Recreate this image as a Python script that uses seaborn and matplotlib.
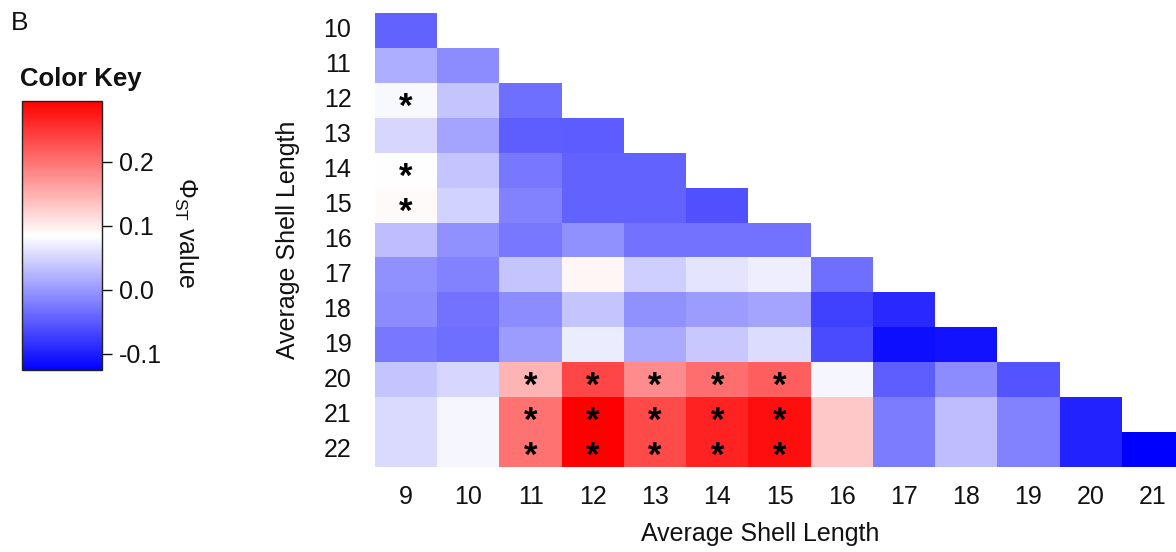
import numpy as np
import pandas as pd
import matplotlib
matplotlib.use("Agg")
import matplotlib.pyplot as plt
from matplotlib.colors import LinearSegmentedColormap
import seaborn as sns

# ---- data ----
row_labels = [10, 11, 12, 13, 14, 15, 16, 17, 18, 19, 20, 21, 22]
col_labels = [9, 10, 11, 12, 13, 14, 15, 16, 17, 18, 19, 20, 21]

row10 = [-0.043]
row11 = [0.019, -0.010]
row12 = [0.079, 0.036, -0.034]
row13 = [0.052, 0.011, -0.047, -0.049]
row14 = [0.085, 0.036, -0.026, -0.044, -0.044]
row15 = [0.089, 0.048, -0.018, -0.044, -0.044, -0.059]
row16 = [0.031, -0.006, -0.026, -0.006, -0.030, -0.030, -0.030]
row17 = [-0.006, -0.018, 0.036, 0.093, 0.044, 0.063, 0.071, -0.034]
row18 = [-0.010, -0.030, -0.010, 0.036, -0.006, 0.003, 0.011, -0.071, -0.092]
row19 = [-0.026, -0.034, 0.003, 0.069, 0.015, 0.040, 0.056, -0.063, -0.113, -0.109]
row20 = [0.036, 0.052, 0.147, 0.237, 0.180, 0.204, 0.217, 0.077, -0.047, -0.010, -0.055]
row21 = [0.055, 0.077, 0.200, 0.295, 0.233, 0.266, 0.283, 0.130, -0.022, 0.031, -0.018, -0.096]
row22 = [0.055, 0.077, 0.200, 0.295, 0.233, 0.266, 0.283, 0.130, -0.022, 0.031, -0.018, -0.096, -0.125]
rows = [row10, row11, row12, row13, row14, row15, row16, row17, row18, row19, row20, row21, row22]

# significant pairs (row label, column label)
significant = [(12, 9), (14, 9), (15, 9),
               (20, 11), (20, 12), (20, 13), (20, 14), (20, 15),
               (21, 11), (21, 12), (21, 13), (21, 14), (21, 15),
               (22, 11), (22, 12), (22, 13), (22, 14), (22, 15)]

vmin, vmax = -0.125, 0.295
cbar_ticks = [-0.1, 0.0, 0.1, 0.2]
cbar_ticklabels = ["-0.1", "0.0", "0.1", "0.2"]

# ---- build matrix ----
mat = np.full((len(row_labels), len(col_labels)), np.nan)
for i, r in enumerate(rows):
    mat[i, :len(r)] = r
df = pd.DataFrame(mat, index=row_labels, columns=col_labels)
annot = pd.DataFrame("", index=row_labels, columns=col_labels)
for r, c in significant:
    annot.loc[r, c] = "*"

sns.set_theme(style="white")
plt.rcParams["font.family"] = ["Liberation Sans", "DejaVu Sans"]
plt.rcParams["mathtext.default"] = "regular"

FS = 18
TXT = "#111111"
W, H = 1176, 552
fig = plt.figure(figsize=(W / 100, H / 100), dpi=100)
ax = fig.add_axes([375 / W, 1 - 467 / H, 809 / W, 454 / H])
cax = fig.add_axes([22 / W, 1 - 370 / H, 80 / W, 269 / H])

cmap = LinearSegmentedColormap.from_list("bwr2", ["#0000FF", "#FFFFFF", "#FF0000"])

sns.heatmap(df, ax=ax, cmap=cmap, vmin=vmin, vmax=vmax, mask=df.isna(),
            annot=annot.values, fmt="",
            annot_kws={"fontsize": 25, "color": "black", "fontweight": "bold"},
            cbar=True, cbar_ax=cax, cbar_kws={"ticks": cbar_ticks},
            linewidths=0, square=False)

# visually centre the asterisks in their cells
for t in ax.texts:
    x, y = t.get_position()
    t.set_position((x, y + 0.2))

ax.tick_params(axis="both", length=0, labelsize=FS, colors=TXT)
ax.tick_params(axis="y", pad=17, labelrotation=0)
ax.tick_params(axis="x", pad=13, labelrotation=0)
ax.set_xlabel("Average Shell Length", fontsize=FS, color=TXT)
ax.set_ylabel("Average Shell Length", fontsize=FS, color=TXT)
ax.xaxis.set_label_coords(0.476, -0.122)
ax.yaxis.set_label_coords(-0.093, 0.5)
for s in ax.spines.values():
    s.set_visible(False)

cax.tick_params(axis="y", length=7.5, width=1, labelsize=FS, pad=5, colors=TXT, right=True)
cax.set_yticklabels(cbar_ticklabels)
cbar = ax.collections[0].colorbar
cbar.outline.set_edgecolor("#222222")
cbar.outline.set_linewidth(1)

fig.text(186 / W, 1 - 232 / H, "Φ$_{ST}$ value", rotation=270, ha="center", va="center",
         fontsize=FS, color=TXT)
fig.text(20 / W, 1 - 86 / H, "Color Key", fontsize=18.5, fontweight="bold", ha="left",
         va="baseline", color=TXT)
fig.text(11 / W, 1 - 30 / H, "B", fontsize=19, ha="left", va="baseline", color=TXT)

fig.savefig("out.png", dpi=100, facecolor="white")
